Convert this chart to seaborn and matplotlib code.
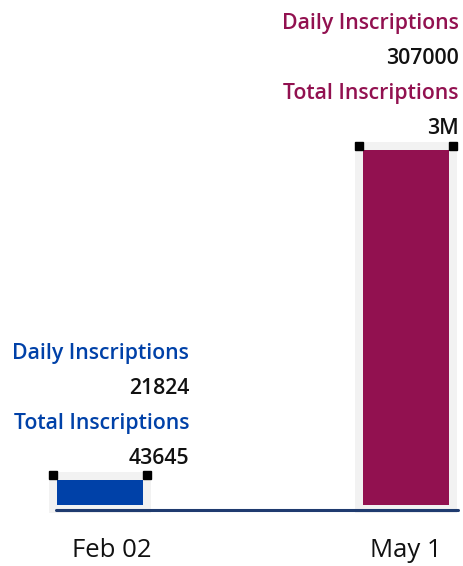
import matplotlib
matplotlib.use("Agg")
import matplotlib.pyplot as plt
import matplotlib.transforms as mtransforms
import seaborn as sns

# Chart data
dates = ["Feb 02", "May 1"]
daily_inscriptions = [21824, 307000]
total_labels = ["43645", "3M"]
bar_colors = ["#0041A8", "#921150"]

sns.set_theme(style="white")
plt.rcParams["font.family"] = ["Open Sans", "DejaVu Sans"]

fig = plt.figure(figsize=(4.64, 5.66), dpi=100)
ax = fig.add_axes([20 / 464, 46 / 566, 440 / 464, 520 / 566])

unit = daily_inscriptions[1] / 355  # data units per pixel
bar_w = 86 / 306

# gray selection frame behind each bar (thick edge = 8px padding)
sns.barplot(x=dates, y=daily_inscriptions, color="#f2f2f2", width=bar_w, saturation=1,
            edgecolor="#f2f2f2", linewidth=16 * 0.72, ax=ax, zorder=1)
# the bars
sns.barplot(x=dates, y=daily_inscriptions, hue=dates, palette=bar_colors, saturation=1,
            width=bar_w, linewidth=0, legend=False, ax=ax, zorder=2)

# black corner handles
for i, v in enumerate(daily_inscriptions):
    for side, dx in [(-1, -4), (1, 4)]:
        tr = mtransforms.offset_copy(ax.transData, fig=fig, x=dx, y=4.5, units="dots")
        ax.plot(i + side * bar_w / 2, v, marker="s", ms=8 * 0.72, color="black",
                transform=tr, zorder=3, clip_on=False)

# baseline
ax.axhline(-5 * unit, xmin=36 / 440, xmax=438 / 440, color="#1f3b6f", lw=2.2, zorder=4)

# tooltip style labels
label_dx = [89, 53]
for i, v in enumerate(daily_inscriptions):
    rows = [("Daily Inscriptions", bar_colors[i], 126),
            (str(v), "#111111", 91),
            ("Total Inscriptions", bar_colors[i], 56),
            (total_labels[i], "#111111", 21)]
    for txt, col, dy in rows:
        ax.annotate(txt, xy=(i, v), xytext=(label_dx[i], dy), textcoords="offset pixels",
                    ha="right", va="center", fontsize=15.3, color=col,
                    fontweight="semibold", annotation_clip=False)

ax.set_xlim(-80 / 306, 360 / 306)
ax.set_ylim(-15 * unit, 505 * unit)
ax.set_yticks([])
ax.set_xticks(range(len(dates)))
ax.set_xticklabels(dates, fontsize=18.5, color="#111111")
ax.tick_params(axis="x", length=0, pad=13)
# first tick label sits a bit right of its bar
first = ax.get_xticklabels()[0]
first.set_transform(first.get_transform() + mtransforms.Affine2D().translate(12, 0))
for s in ax.spines.values():
    s.set_visible(False)
ax.set_xlabel("")
ax.set_ylabel("")

fig.savefig("out.png", dpi=100)
